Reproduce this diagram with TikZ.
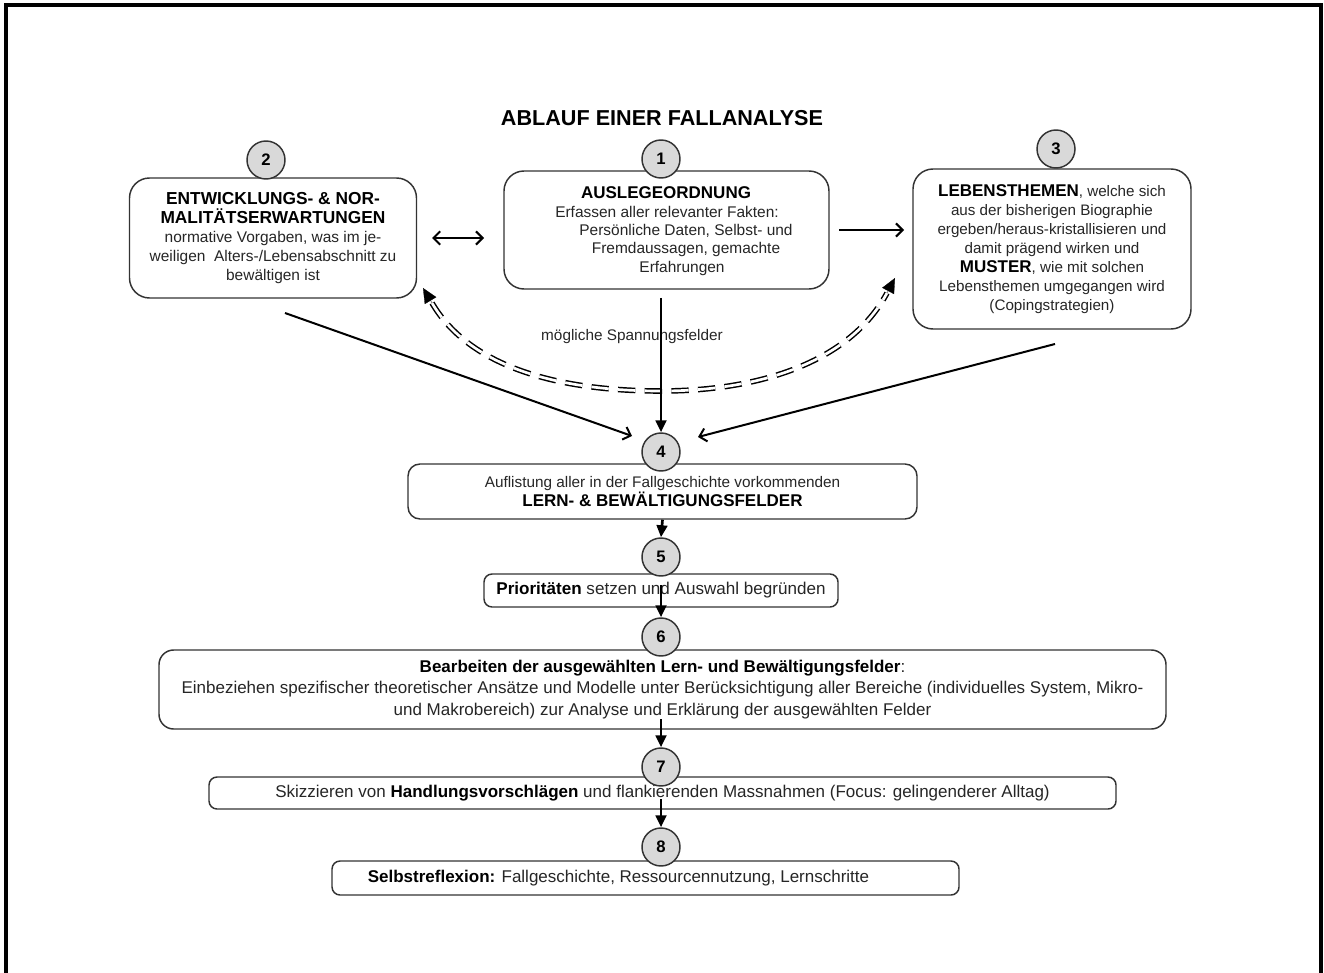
\documentclass[tikz,border=0pt]{standalone}
\usepackage{fontspec}
\setmainfont{Liberation Sans}
\usetikzlibrary{arrows.meta}
\definecolor{ink}{HTML}{262626}
\definecolor{edge}{HTML}{333333}
\definecolor{disc}{HTML}{D9D9D9}
\newcommand{\fs}[2]{\fontsize{#1}{#2}\selectfont}
\begin{document}
\begin{tikzpicture}[x=0.75pt,y=-0.75pt,
  box/.style={draw=edge, line width=1.1pt, fill=white, inner sep=0pt, text=ink, align=center},
  txt/.style={inner sep=0pt, text=ink, align=center},
  num/.style={circle, draw=edge, line width=1.1pt, fill=disc, minimum size=28.5pt, inner sep=0pt, font=\fs{12.5}{12.5}\bfseries},
  flow/.style={line width=2pt, -{Triangle[length=9pt,width=8pt]}},
  vee/.style={line width=1.5pt, -{Straight Barb[length=5pt,width=10pt]}},
  twin/.style={line width=1.1pt, double distance=2pt, dash pattern=on 13pt off 7pt},
  tip/.style={line width=0.2pt, -{Triangle[length=11pt,width=10pt]}}
]
\useasboundingbox (0,0) rectangle (1324,973);

% page frame, open at the bottom
\draw[line width=2.3pt] (6,973) -- (6,5) -- (1321,5) -- (1321,973);

\node[txt, font=\fs{16.2}{16}\bfseries, text=black] (title) at (662,118) {ABLAUF EINER FALLANALYSE};

% upper row
\node[box, rounded corners=15pt, minimum width=215.25pt, minimum height=90pt,
      font=\fs{11.6}{14.25}] (b2) at (273,238)
  {{\fs{13}{13.5}\bfseries\color{black}ENTWICKLUNGS- \& NOR-}\\
   {\fs{13}{14.5}\bfseries\color{black}MALITÄTSERWARTUNGEN}\\
   normative Vorgaben, was im je-\\
   weiligen\ \ Alters-/Lebensabschnitt zu\\
   bewältigen ist};

\node[box, rounded corners=15pt, minimum width=243.75pt, minimum height=88.5pt] (b1) at (666.5,230) {};
\node[txt, font=\fs{12.75}{13.5}\bfseries, text=black] (t1a) at (666,193) {AUSLEGEORDNUNG};
\node[txt, font=\fs{11.6}{14}] (t1b) at (667,212) {Erfassen aller relevanter Fakten:};
\node[txt, font=\fs{11.6}{14}] (t1c) at (686,231) {Persönliche Daten, Selbst- und};
\node[txt, font=\fs{11.6}{14}] (t1d) at (686,250) {Fremdaussagen, gemachte};
\node[txt, font=\fs{11.6}{14}] (t1e) at (682,269) {Erfahrungen};

\node[box, rounded corners=15pt, minimum width=208.5pt, minimum height=120pt,
      font=\fs{11.4}{14.25}] (b3) at (1052,249)
  {{\fs{12.75}{14.25}\bfseries\color{black}LEBENSTHEMEN}, welche sich\\
   aus der bisherigen Biographie\\
   ergeben/heraus-kristallisieren und\\
   damit prägend wirken und\\
   {\fs{12.75}{14.25}\bfseries\color{black}MUSTER}, wie mit solchen\\
   Lebensthemen umgegangen wird\\
   (Copingstrategien)};

% lower chain
\node[box, rounded corners=9pt, minimum width=381.75pt, minimum height=41.25pt,
      font=\fs{11.5}{14}] (b4) at (662.5,491.5)
  {Auflistung aller in der Fallgeschichte vorkommenden\\
   {\fs{12.75}{14}\bfseries\color{black}LERN- \& BEWÄLTIGUNGSFELDER}};

\node[box, rounded corners=6pt, minimum width=265.5pt, minimum height=24.75pt,
      font=\fs{12.8}{14}] (b5) at (661,590.5)
  {{\bfseries\color{black}Prioritäten} setzen und Auswahl begründen};

\node[box, rounded corners=11pt, minimum width=755.25pt, minimum height=59.25pt,
      font=\fs{12.75}{16}] (b6) at (662.5,689.5)
  {{\bfseries\color{black}Bearbeiten der ausgewählten Lern- und Bewältigungsfelder}:\\
   Einbeziehen spezifischer theoretischer Ansätze und Modelle unter Berücksichtigung aller Bereiche (individuelles System, Mikro-\\
   und Makrobereich) zur Analyse und Erklärung der ausgewählten Felder};

\node[box, rounded corners=6pt, minimum width=680.25pt, minimum height=24pt,
      font=\fs{12.75}{14}] (b7) at (662.5,793)
  {Skizzieren von {\bfseries\color{black}Handlungsvorschlägen} und flankierenden Massnahmen (Focus: gelingenderer Alltag)};

\node[box, rounded corners=6pt, minimum width=470.25pt, minimum height=25.5pt] (b8) at (645.5,878) {};
\node[txt, font=\fs{12.75}{14}] (t8) at (618.5,878)
  {{\bfseries\color{black}Selbstreflexion:} Fallgeschichte, Ressourcennutzung, Lernschritte};

% numbered discs
\node[num] (c1) at (661,159) {1};
\node[num] (c2) at (266,160) {2};
\node[num] (c3) at (1056,149) {3};
\node[num] (c4) at (661,452) {4};
\node[num] (c5) at (661,557) {5};
\node[num] (c6) at (661,637) {6};
\node[num] (c7) at (661,767) {7};
\node[num] (c8) at (661,847) {8};

% free ends of the connectors
\coordinate (p21) at (432,238);
\coordinate (p12) at (484,238);
\coordinate (p13a) at (839,230);
\coordinate (p13b) at (904,230);
\coordinate (pc) at (661,298);
\coordinate (pl) at (285,313);
\coordinate (pl4) at (632,436);
\coordinate (pr) at (1055,344);
\coordinate (pr4) at (698,437);
\coordinate (dl) at (423,288);
\coordinate (dli) at (432,303);
\coordinate (dr) at (895,278);
\coordinate (dri) at (887,293);
\coordinate (s5) at (661,585);
\coordinate (s6) at (661,719);
\coordinate (s7) at (661,799);

\draw[line width=1.5pt, {Straight Barb[length=5pt,width=10pt]}-{Straight Barb[length=5pt,width=10pt]}] (p21) -- (p12);
\draw[vee] (p13a) -- (p13b);
\draw[vee] (pl) -- (pl4);
\draw[vee] (pr) -- (pr4);

% tension field: dashed double curve with solid heads at both ends
\draw[twin] (dli) .. controls (470,368) and (560,391) .. (661,391)
                  .. controls (760,391) and (850,362) .. (dri);
\draw[tip] (dli) -- (dl);
\draw[tip] (dri) -- (dr);

\node[txt, font=\fs{11.5}{12}] (span) at (632,337) {mögliche Spannungsfelder};

\draw[flow] (pc) -- (c4.north);
\draw[flow] (b4.south) -- (c5.north);
\draw[flow] (s5) -- (c6.north);
\draw[flow] (s6) -- (c7.north);
\draw[flow] (s7) -- (c8.north);
\end{tikzpicture}
\end{document}
